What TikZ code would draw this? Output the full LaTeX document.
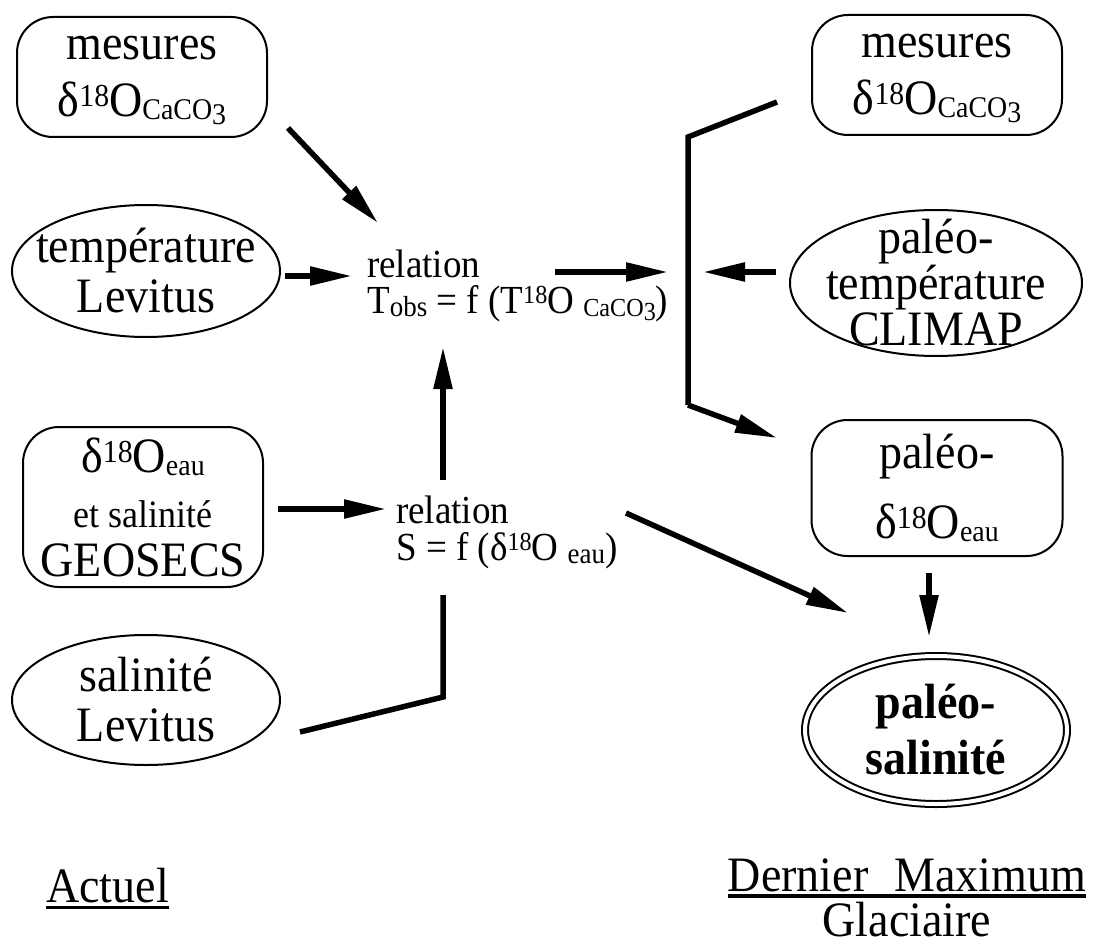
\documentclass[tikz,border=0pt]{standalone}
\usepackage{fontspec}
\setmainfont{Liberation Serif}[FakeStretch=0.93]
\usetikzlibrary{arrows.meta,shapes.geometric}
\newcommand\fsz[1]{\fontsize{#1}{#1}\selectfont}
\newcommand\dOx[1]{δ\raisebox{.2em}{\fsz{32}18}O\raisebox{-.06em}{\fsz{30}#1}}
\newcommand\ulin[2]{\setbox0\hbox{#2}\rlap{\rule[#1]{\wd0}{3.5pt}}\box0}
\tikzset{
  box/.style={draw, line width=2pt, rounded corners=36pt, align=center,
    inner sep=-60pt, font=\fontsize{49.5}{57}\selectfont},
  ell/.style={draw, ellipse, line width=2pt, align=center,
    inner sep=-80pt, font=\fontsize{49.5}{50}\selectfont},
  arr/.style={line width=5.5pt, -{Triangle[length=42pt,width=18pt]}},
  ln/.style={line width=5.5pt, line join=miter},
  rel/.style={align=left, inner sep=0pt, anchor=north west},
  lab/.style={inner sep=0pt, font=\fontsize{49.5}{45}\selectfont}
}
\begin{document}
\begin{tikzpicture}[x=1pt,y=-1pt]
\useasboundingbox (0,0) rectangle (1100,947);
% left column
\node[box, minimum width=250pt, minimum height=120pt] (m1) at (142,77)
  {\rule{0pt}{30pt}mesures\\\dOx{CaCO\raisebox{-.15em}{3}}};
\node[ell, minimum width=268pt, minimum height=132pt] (temp) at (146,271)
  {température\\Levitus};
\node[box, minimum width=240pt, minimum height=160pt, font=\fontsize{49.5}{55}\selectfont] (geo) at (143,507)
  {\dOx{eau}\\{\fsz{38.7}et salinité}\\[-6pt]GEOSECS};
\node[ell, minimum width=268pt, minimum height=130pt] (sal) at (146,700)
  {salinité\\Levitus};
% middle
\node[rel, font=\fontsize{39.8}{36}\selectfont] (rel1) at (367,250)
  {relation\\T\raisebox{-.06em}{\fsz{29}obs} = f (T\raisebox{.25em}{\fsz{26}18}O \raisebox{-.06em}{\fsz{26}CaCO\raisebox{-.15em}{3}})};
\node[rel, font=\fontsize{39.8}{37}\selectfont] (rel2) at (396,496)
  {relation\\S = f (δ\raisebox{.25em}{\fsz{26}18}O \raisebox{-.06em}{\fsz{29}eau})};
% right column
\node[box, minimum width=250pt, minimum height=120pt] (m2) at (937,75)
  {\rule{0pt}{30pt}mesures\\\dOx{CaCO\raisebox{-.15em}{3}}};
\node[ell, minimum width=292pt, minimum height=146pt, font=\fontsize{49.5}{46}\selectfont] (clim) at (936,283)
  {paléo-\\température\\CLIMAP};
\node[box, minimum width=251pt, minimum height=136pt, font=\fontsize{49.5}{70}\selectfont] (pd) at (937,488)
  {paléo-\\\dOx{eau}};
\node[ell, double, double distance=4pt, minimum width=262pt, minimum height=148pt,
  font=\fontsize{49.5}{56}\selectfont\bfseries] (ps) at (936,730)
  {paléo-\\salinité};
% labels
\node[lab, anchor=base west] (act) at (46,902) {\ulin{-7pt}{Actuel}};
\node[lab, anchor=south, align=center] (dmg) at (907,937)
  {\ulin{-6.5pt}{Dernier\hspace{26pt}Maximum}\\Glaciaire};
% connector end points
\coordinate (m1o) at (288,128);  \coordinate (r1a) at (378,223);
\coordinate (tmo) at (285,276);  \coordinate (r1b) at (352,276);
\coordinate (r1o) at (555,272);  \coordinate (brk) at (668,272);
\coordinate (m2o) at (777,102);  \coordinate (bk1) at (688,137);
\coordinate (bk2) at (688,405);  \coordinate (pdi) at (777,438);
\coordinate (clo) at (776,272);  \coordinate (bkc) at (703,272);
\coordinate (geoo) at (278,509); \coordinate (r2a) at (386,509);
\coordinate (r2u) at (443,480);  \coordinate (r1u) at (443,347);
\coordinate (r2o) at (626,513);  \coordinate (psa) at (848,613);
\coordinate (salo) at (300,732); \coordinate (sk) at (443,697);
\coordinate (r2d) at (443,595);
\coordinate (pdo) at (929,573);  \coordinate (psb) at (929,637);
% connectors
\draw[arr] (m1o) -- (r1a);
\draw[arr] (tmo) -- (r1b);
\draw[arr] (r1o) -- (brk);
\draw[ln] (m2o) -- (bk1) -- (bk2);
\draw[arr] (bk2) -- (pdi);
\draw[arr] (clo) -- (bkc);
\draw[arr] (geoo) -- (r2a);
\draw[arr] (r2u) -- (r1u);
\draw[arr] (r2o) -- (psa);
\draw[ln] (salo) -- (sk) -- (r2d);
\draw[arr] (pdo) -- (psb);
\end{tikzpicture}
\end{document}
